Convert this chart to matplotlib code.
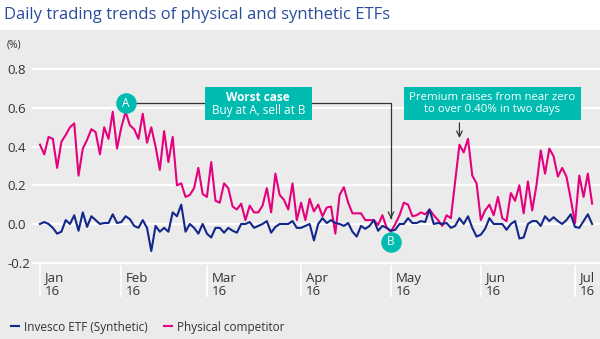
import matplotlib

matplotlib.use("Agg")
import matplotlib.pyplot as plt
import matplotlib.transforms as mtransforms
from matplotlib.patches import Rectangle
import numpy as np
import pandas as pd

plt.rcParams["font.family"] = ["Open Sans", "DejaVu Sans"]

# Daily premium/discount (%), one value per US trading day from 4 Jan 2016
US_HOLIDAYS = ["2016-01-18", "2016-02-15", "2016-03-25", "2016-05-30", "2016-07-04"]

physical = [
    0.41, 0.36, 0.45, 0.44, 0.29, 0.425, 0.46, 0.50, 0.52, 0.25,
    0.39, 0.435, 0.49, 0.475, 0.36, 0.50, 0.44, 0.58, 0.39, 0.50,
    0.58, 0.51, 0.49, 0.44, 0.57, 0.42, 0.50, 0.40, 0.28, 0.48,
    0.32, 0.45, 0.20, 0.21, 0.14, 0.15, 0.185, 0.29, 0.155, 0.14,
    0.32, 0.12, 0.11, 0.21, 0.185, 0.09, 0.075, 0.105, 0.02, 0.095,
    0.06, 0.06, 0.095, 0.185, 0.06, 0.26, 0.15, 0.125, 0.075, 0.21,
    0.02, 0.11, 0.02, 0.13, 0.065, 0.10, 0.04, 0.085, 0.09, -0.05,
    0.15, 0.19, 0.11, 0.055, 0.055, 0.055, 0.02, 0.02, 0.02, -0.005,
    0.045, -0.02, -0.04, 0.0, 0.045, 0.11, 0.10, 0.04, 0.045, 0.06,
    0.05, 0.075, 0.045, 0.02, -0.01, 0.045, 0.03, 0.22, 0.41, 0.37,
    0.44, 0.25, 0.21, 0.02, 0.07, 0.10, 0.045, 0.14, 0.03, 0.015,
    0.16, 0.12, 0.20, 0.055, 0.22, 0.07, 0.20, 0.38, 0.26, 0.39,
    0.35, 0.245, 0.29, 0.245, 0.13, 0.005, 0.25, 0.14, 0.26, 0.105,
]

synthetic = [
    0.0, 0.01, 0.0, -0.02, -0.05, -0.04, 0.02, 0.0, 0.045, -0.035,
    0.06, -0.015, 0.04, 0.02, 0.0, 0.005, 0.005, 0.05, 0.005, 0.01,
    0.04, 0.025, -0.01, -0.02, 0.02, -0.02, -0.14, -0.01, -0.04, -0.02,
    -0.04, 0.06, 0.04, 0.10, -0.04, 0.0, -0.02, -0.05, 0.0, -0.05,
    -0.07, -0.02, -0.02, -0.045, -0.02, -0.035, -0.045, 0.0, 0.0, 0.01,
    -0.02, -0.01, 0.0, 0.015, -0.045, -0.015, 0.0, 0.0, 0.0, 0.015,
    -0.02, -0.02, -0.01, 0.0, -0.085, 0.0, 0.03, 0.005, 0.02, 0.005,
    0.0, -0.01, 0.005, -0.04, -0.065, -0.01, -0.025, -0.01, 0.02, -0.035,
    -0.01, -0.02, -0.035, -0.03, 0.0, 0.0, 0.03, 0.005, 0.005, 0.015,
    0.01, 0.075, 0.0, 0.005, 0.0, 0.005, -0.02, -0.01, 0.03, 0.0,
    0.04, -0.02, -0.065, -0.055, -0.025, 0.03, 0.0, 0.0, 0.0, -0.03,
    0.0, 0.015, -0.075, -0.07, 0.0, 0.015, 0.015, -0.01, 0.04, 0.015,
    0.035, 0.015, 0.0, 0.02, 0.05, -0.015, -0.02, 0.015, 0.05, 0.0,
]

yticks = [-0.2, 0.0, 0.2, 0.4, 0.6, 0.8]

NAVY = "#13278a"
PINK = "#e5007e"
TEAL = "#00bcb0"
BG = "#ebebeb"

dates = pd.bdate_range("2016-01-04", periods=len(physical), freq="C", holidays=US_HOLIDAYS)
x = np.arange(len(dates))
month_idx = [i for i in range(len(dates)) if i == 0 or dates[i].month != dates[i - 1].month]
month_lbl = [dates[i].strftime("%b\n%y") for i in month_idx]

W, H = 600, 339
fig = plt.figure(figsize=(W / 100, H / 100), dpi=100)
fig.patches.append(Rectangle((0, 0), 1, 1 - 30 / H, transform=fig.transFigure,
                             facecolor=BG, edgecolor="none", zorder=-10))

# axes box in pixels: x 32..600, y 67.3..264.6 (ylim -0.21..0.81)
ax = fig.add_axes([32 / W, 1 - 264.6 / H, 1 - 32 / W, (264.6 - 67.3) / H])
ax.set_facecolor(BG)
ax.set_ylim(-0.21, 0.81)
ax.set_xlim(-1.87, 130.84)
for s in ax.spines.values():
    s.set_visible(False)

ax.set_yticks(yticks)
ax.set_yticklabels([f"{v:.1f}" for v in yticks])
ax.yaxis.grid(True, color="white", lw=1.6)
ax.set_axisbelow(True)
ax.tick_params(axis="y", length=0, pad=18, labelsize=9.5, labelcolor="#333333")
for lab in ax.get_yticklabels():
    lab.set_ha("left")

ax.set_xticks(month_idx)
ax.set_xticklabels(month_lbl, linespacing=1.0)
ax.tick_params(axis="x", direction="out", length=23, width=1.2, color="white",
               pad=-18, labelsize=9.5, labelcolor="#333333")
shift = mtransforms.ScaledTranslation(0.045, 0, fig.dpi_scale_trans)
for lab in ax.get_xticklabels():
    lab.set_ha("left")
    lab.set_transform(lab.get_transform() + shift)

ax.plot(x, synthetic, color=NAVY, lw=1.5, label="Invesco ETF (Synthetic)", zorder=3)
ax.plot(x, physical, color=PINK, lw=1.5, label="Physical competitor", zorder=2)

fig.text(7 / W, 1 - 45 / H, "(%)", fontsize=7.5, color="#333333", va="center")
fig.text(4 / W, 1 - 15 / H, "Daily trading trends of physical and synthetic ETFs",
         fontsize=12, color="#2a4c9c", va="center")

# worst case: buy at A (peak), sell at B (trough)
iA, iB = 20, 82
yA = physical[iA] + 0.045
yB = synthetic[iB] - 0.058
box_y0, box_y1 = 0.537, 0.708
ax.plot([iA, 38.5], [yA, yA], color="#333333", lw=0.9, zorder=4)
ax.plot([63.5, iB, iB], [yA, yA, 0.03], color="#333333", lw=0.9, zorder=4)
ax.annotate("", xy=(iB, 0.012), xytext=(iB, 0.05),
            arrowprops=dict(arrowstyle="->", color="#333333", lw=0.9), zorder=4)
for xi, yi, t in [(iA, yA, "A"), (iB, yB, "B")]:
    ax.scatter([xi], [yi], s=190, color=TEAL, zorder=5, clip_on=False)
    ax.text(xi, yi, t, color="white", fontsize=8.5, ha="center", va="center", zorder=6)

ax.add_patch(Rectangle((38.5, box_y0), 25, box_y1 - box_y0, facecolor=TEAL,
                       edgecolor="none", zorder=5))
ax.text(51, 0.655, "Worst case", color="white", fontsize=8.5, fontweight="bold",
        ha="center", va="center", zorder=6)
ax.text(51, 0.585, "Buy at A, sell at B", color="white", fontsize=8.5,
        ha="center", va="center", zorder=6)

iP = 98
ax.add_patch(Rectangle((85.0, box_y0), 41.4, box_y1 - box_y0, facecolor=TEAL,
                       edgecolor="none", zorder=5))
ax.text(105.7, 0.622, "Premium raises from near zero\nto over 0.40% in two days",
        color="white", fontsize=8.2, ha="center", va="center", linespacing=1.15, zorder=6)
ax.annotate("", xy=(iP, physical[iP] + 0.02), xytext=(iP, box_y0),
            arrowprops=dict(arrowstyle="->", color="#333333", lw=0.9), zorder=4)

fig.legend(loc="center left", bbox_to_anchor=(0.0, 1 - 327 / H), ncol=2, frameon=False,
           fontsize=8.5, handlelength=0.7, handletextpad=0.4, columnspacing=1.4,
           labelcolor="#333333")

fig.savefig("out.png", dpi=100, facecolor="white")
